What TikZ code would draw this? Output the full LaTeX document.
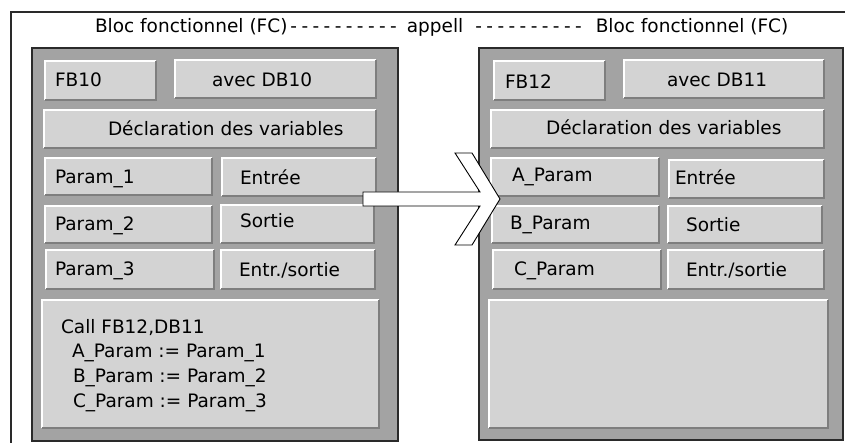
\documentclass[tikz,border=0pt]{standalone}
\usepackage{fontspec}
\setmainfont{DejaVu Sans}
\definecolor{panelgray}{HTML}{A3A3A3}
\definecolor{boxgray}{HTML}{D3D3D3}
\definecolor{shadegray}{HTML}{7E7E7E}
\definecolor{edge}{HTML}{2A2A2A}
\newcommand\hyph{-\kern4.4pt}
\newcommand\dashrow{\hyph\hyph\hyph\hyph\hyph\hyph\hyph\hyph\hyph-}
\tikzset{
  panel/.style={draw=edge, line width=1.8pt, fill=panelgray, inner sep=0pt, outer sep=0pt, anchor=north west},
  btn/.style={fill=boxgray, draw=none, inner sep=0pt, outer sep=0pt, anchor=north west},
  hil/.style={draw=white, line width=1.6pt},
  shd/.style={draw=shadegray, line width=2pt},
  lbl/.style={inner sep=0pt, outer sep=0pt, anchor=base west, font=\fontsize{18.5}{22}\selectfont, text=black},
  blockarrow/.style={draw=black, line width=0.9pt, fill=white, line join=miter},
  frame/.style={draw=edge, line width=1.5pt}
}
\newcommand\bx[5]{%
  \node[btn, minimum width=#4-#2, minimum height=#5-#3] (#1) at (#2,#3) {};
  \draw[hil] (#1.south west) -- (#1.north west) -- (#1.north east);
  \draw[shd] (#1.north east) -- (#1.south east) -- (#1.south west);}
\newcommand\lb[4]{\node[lbl] (#1) at (#2,#3) {#4};}
\begin{document}
\begin{tikzpicture}[x=1pt, y=-1pt]
\useasboundingbox (0,0) rectangle (845,443);
\clip (0,0) rectangle (845,443);
\fill[white] (0,0) rectangle (845,443);
% outer frame
\coordinate (fbl) at (11,450);
\coordinate (ftl) at (11,12);
\coordinate (ftr) at (852,12);
\draw[frame] (fbl) -- (ftl) -- (ftr);
% title
\node[lbl] (title) at (95,33) {Bloc fonctionnel (FC)\kern3pt\dashrow\hspace{10pt}appell\hspace{12pt}\dashrow\hspace{14pt}Bloc fonctionnel (FC)};
% panels
\node[panel, minimum width=366, minimum height=393] (P1) at (32,48) {};
\node[panel, minimum width=364, minimum height=392] (P2) at (479,48) {};
% left panel boxes
\bx{a1}{45}{61}{156}{100}
\bx{a2}{175}{60}{376}{98}
\bx{a3}{44}{110}{376}{148}
\bx{a4}{45}{158}{212}{195}
\bx{a5}{222}{158}{376}{196}
\bx{a6}{45}{206}{212}{243}
\bx{a7}{221}{205}{374}{243}
\bx{a8}{46}{250}{214}{289}
\bx{a9}{221}{250}{375}{289}
\bx{a10}{42}{300}{379}{428}
% right panel boxes
\bx{b1}{494}{61}{605}{100}
\bx{b2}{624}{60}{824}{98}
\bx{b3}{491}{110}{824}{148}
\bx{b4}{491}{158}{659}{196}
\bx{b5}{669}{160}{824}{198}
\bx{b6}{492}{206}{659}{243}
\bx{b7}{668}{206}{822}{243}
\bx{b8}{493}{250}{661}{289}
\bx{b9}{668}{250}{824}{289}
\bx{b10}{489}{300}{828}{428}
% left labels
\lb{ta1}{55}{87}{FB10}
\lb{ta2}{212}{87}{avec DB10}
\lb{ta3}{108}{136}{Déclaration des variables}
\lb{ta4}{55}{184}{Param\_1}
\lb{ta5}{240}{185}{Entrée}
\lb{ta6}{55}{231}{Param\_2}
\lb{ta7}{240}{228}{Sortie}
\lb{ta8}{55}{276}{Param\_3}
\lb{ta9}{239}{277}{Entr./sortie}
\lb{tc1}{61}{333}{Call FB12,DB11}
\lb{tc2}{72}{357}{A\_Param := Param\_1}
\lb{tc3}{73}{382}{B\_Param := Param\_2}
\lb{tc4}{73}{407}{C\_Param := Param\_3}
% right labels
\lb{tb1}{505}{89}{FB12}
\lb{tb2}{667}{87}{avec DB11}
\lb{tb3}{546}{135}{Déclaration des variables}
\lb{tb4}{512}{182}{A\_Param}
\lb{tb5}{675}{185}{Entrée}
\lb{tb6}{510}{230}{B\_Param}
\lb{tb7}{686}{232}{Sortie}
\lb{tb8}{514}{276}{C\_Param}
\lb{tb9}{686}{277}{Entr./sortie}
% block arrow from left panel to right panel
\draw[blockarrow] (363,192) -- (480,192) -- (455,153) -- (472,153) -- (500,199)
  -- (472,245) -- (455,245) -- (480,206) -- (363,206) -- cycle;
\end{tikzpicture}
\end{document}
